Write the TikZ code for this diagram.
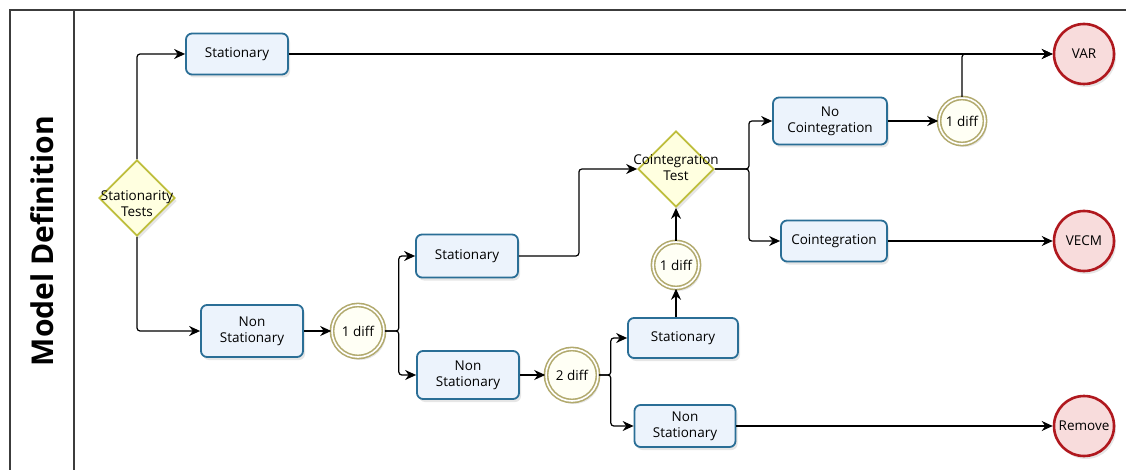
\documentclass[tikz,border=0pt]{standalone}
\usepackage{fontspec}
\setmainfont{Open Sans}
\usetikzlibrary{shapes.geometric,arrows.meta,shadows}

\definecolor{taskline}{RGB}{42,110,150}
\definecolor{taskfill}{RGB}{236,243,252}
\definecolor{gateline}{RGB}{190,190,60}
\definecolor{gatefill}{RGB}{255,255,224}
\definecolor{diffline}{RGB}{178,170,110}
\definecolor{difffill}{RGB}{255,255,245}
\definecolor{endline}{RGB}{176,24,30}
\definecolor{endfill}{RGB}{248,220,220}
\definecolor{laneline}{RGB}{60,60,60}

\tikzset{
  task/.style={draw=taskline, line width=1.8pt, fill=taskfill, rounded corners=6pt,
    align=center, inner sep=2pt, font=\fontsize{13.5}{16}\selectfont,
    drop shadow={opacity=0.2, shadow xshift=2pt, shadow yshift=-3pt}},
  gate/.style={diamond, draw=gateline, line width=1.8pt, fill=gatefill, inner sep=0pt,
    minimum width=76pt, minimum height=76pt,
    drop shadow={opacity=0.2, shadow xshift=2pt, shadow yshift=-3pt}},
  gatetext/.style={align=center, font=\fontsize{13.5}{16}\selectfont, inner sep=0pt},
  diff/.style={circle, draw=diffline, line width=1.6pt, double=white, double distance=1.6pt,
    fill=difffill, inner sep=0pt, font=\fontsize{13.5}{16}\selectfont,
    drop shadow={opacity=0.2, shadow xshift=2pt, shadow yshift=-3pt}},
  finish/.style={circle, draw=endline, line width=2.6pt, fill=endfill, inner sep=0pt,
    minimum size=60pt, font=\fontsize{13.5}{16}\selectfont,
    drop shadow={opacity=0.2, shadow xshift=2pt, shadow yshift=-3pt}},
  flow/.style={draw=black, line width=1.2pt, rounded corners=3pt,
    -{Stealth[length=11pt,width=10pt]}},
}

\begin{document}
\begin{tikzpicture}[x=1pt,y=-1pt]
  \useasboundingbox (0,0) rectangle (1126,470);

  % pool and lane
  \draw[laneline, line width=1.3pt] (10,470) -- (10,10) -- (1126,10);
  \draw[laneline, line width=1.3pt] (74,10) -- (74,470);
  \node[rotate=90, font=\fontsize{30}{34}\selectfont\bfseries] (lane) at (42,241) {Model Definition};

  % first test
  \node[gate] (st) at (137,198) {};
  \node[gatetext] (stlabel) at (137,204) {Stationarity\\Tests};
  \node[task, minimum width=102pt, minimum height=41pt] (stat1) at (237,54) {Stationary};
  \node[task, minimum width=102pt, minimum height=52pt] (non1) at (252,331) {Non\\Stationary};
  \node[diff, minimum size=52pt] (d1) at (358,331) {1 diff};

  % after one difference
  \node[task, minimum width=102pt, minimum height=43pt] (stat2) at (467,256) {Stationary};
  \node[task, minimum width=102pt, minimum height=48pt] (non2) at (468,375) {Non\\Stationary};
  \node[diff, minimum size=52pt] (d2) at (572,375) {2 diff};

  % after two differences
  \node[task, minimum width=110pt, minimum height=40pt] (stat3) at (683,338) {Stationary};
  \node[task, minimum width=101pt, minimum height=42pt] (non3) at (685,426) {Non\\Stationary};
  \node[diff, minimum size=46pt] (d3) at (676,265) {1 diff};

  % cointegration
  \node[gate] (ct) at (676,169) {};
  \node[gatetext] (ctlabel) at (676,168) {Cointegration\\Test};
  \node[task, minimum width=114pt, minimum height=47pt] (noco) at (830,121) {No\\Cointegration};
  \node[task, minimum width=106pt, minimum height=41pt] (coint) at (834,241) {Cointegration};
  \node[diff, minimum size=46pt] (d4) at (962,121) {1 diff};

  % results
  \node[finish] (var) at (1084,54) {VAR};
  \node[finish] (vecm) at (1084,241) {VECM};
  \node[finish] (rem) at (1084,426) {Remove};

  % connectors
  \draw[flow] (st.north) |- (stat1.west);
  \draw[flow] (st.south) |- (non1.west);
  \draw[flow] (stat1.east) -- (var.west);
  \draw[flow] (non1.east) -- (d1.west);
  \draw[flow] (d1.east) -- ++(14,0) |- (stat2.west);
  \draw[flow] (d1.east) -- ++(14,0) |- (non2.west);
  \draw[flow] (stat2.east) -- ++(60,0) |- (ct.west);
  \draw[flow] (non2.east) -- (d2.west);
  \draw[flow] (d2.east) -- ++(12,0) |- (stat3.west);
  \draw[flow] (d2.east) -- ++(12,0) |- (non3.west);
  \draw[flow] (stat3.north -| d3) -- (d3.south);
  \draw[flow] (d3.north) -- (ct.south);
  \draw[flow] (ct.east) -- ++(34,0) |- (noco.west);
  \draw[flow] (ct.east) -- ++(34,0) |- (coint.west);
  \draw[flow] (noco.east) -- (d4.west);
  \draw[flow] (d4.north) |- (var.west);
  \draw[flow] (coint.east) -- (vecm.west);
  \draw[flow] (non3.east) -- (rem.west);
\end{tikzpicture}
\end{document}
